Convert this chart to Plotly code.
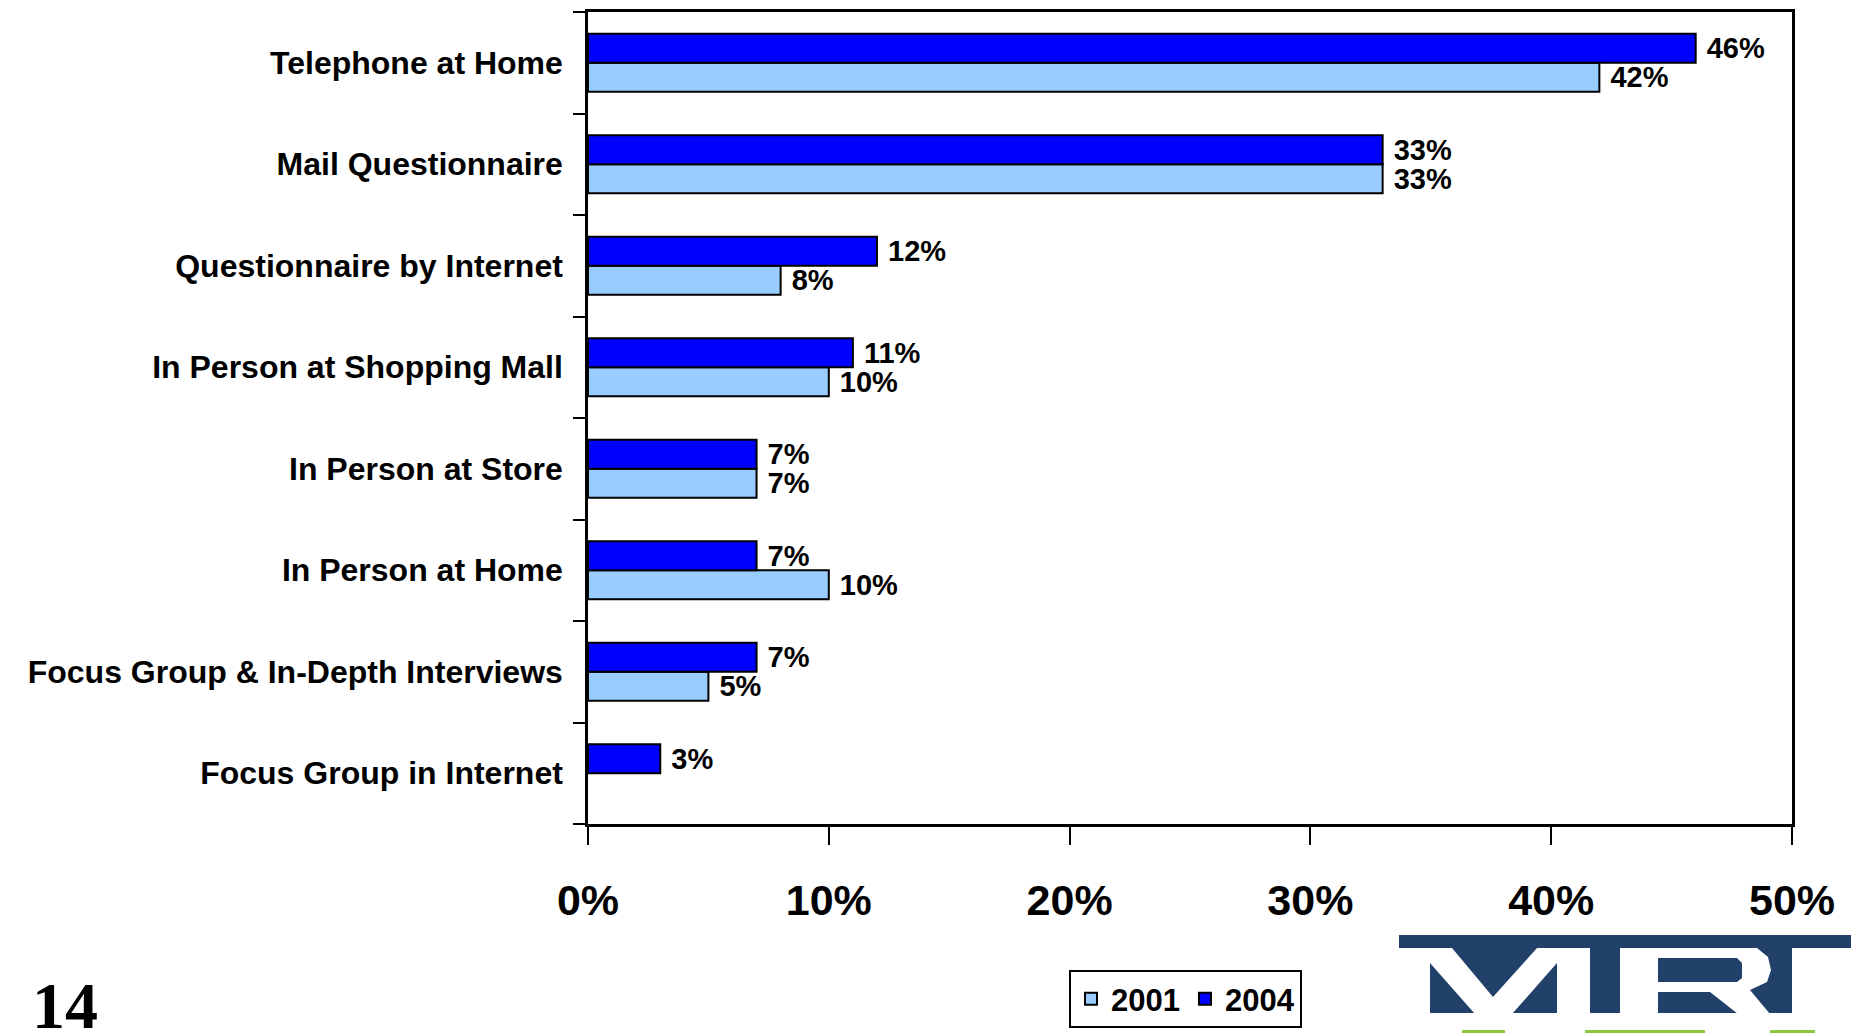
import plotly.graph_objects as go

# Survey method shares, listed top to bottom as they appear on the chart
methods = [
    "Telephone at Home",
    "Mail Questionnaire",
    "Questionnaire by Internet",
    "In Person at Shopping Mall",
    "In Person at Store",
    "In Person at Home",
    "Focus Group & In-Depth Interviews",
    "Focus Group in Internet",
]
share_2001 = [42, 33, 8, 10, 7, 10, 5, None]
share_2004 = [46, 33, 12, 11, 7, 7, 7, 3]
x_ticks = [0, 10, 20, 30, 40, 50]
x_tick_labels = ["0%", "10%", "20%", "30%", "40%", "50%"]

W, H = 1851, 1033
PL, PR, PT, PB = 588, 1792, 12, 824  # plot area in pixels


def px(x):
    return (x - PL) / (PR - PL)


def py(y):
    return (PB - y) / (PB - PT)


SANS = "Liberation Sans, Arial, sans-serif"
LIGHT = "#99CCFF"
DARK = "#0000FF"
NAVY = "#21406A"
GREEN = "#8DC63F"

fig = go.Figure()
for name, vals, color in [("2001", share_2001, LIGHT), ("2004", share_2004, DARK)]:
    fig.add_trace(go.Bar(
        name=name,
        y=methods,
        x=vals,
        orientation="h",
        marker=dict(color=color, line=dict(color="black", width=2)),
        text=["" if v is None else f"\u00a0{v}%" for v in vals],
        textposition="outside",
        constraintext="none",
        cliponaxis=False,
        textfont=dict(family=SANS, size=29, color="black", weight="bold"),
        hoverinfo="skip",
    ))

# Logo block at the lower right corner
shapes = [
    dict(type="rect", xref="paper", yref="paper",
         x0=px(1399), x1=px(1860), y0=py(1013), y1=py(935),
         fillcolor=NAVY, line=dict(width=0), layer="above"),
]


def poly(points, color):
    d = "M " + " L ".join(f"{px(x):.5f},{py(y):.5f}" for x, y in points) + " Z"
    return dict(type="path", xref="paper", yref="paper", path=d,
                fillcolor=color, line=dict(width=0), layer="above")


# M
shapes.append(poly([(1399, 948), (1452, 948), (1493, 997), (1537, 948), (1590, 948),
                    (1590, 1014), (1557, 1014), (1557, 963), (1512, 1014), (1475, 1014),
                    (1430, 963), (1430, 1014), (1399, 1014)], "white"))
# R
shapes.append(poly([(1620, 948), (1757, 948), (1768, 957), (1771, 970), (1767, 982),
                    (1750, 990), (1770, 1014), (1738, 1014), (1710, 992), (1658, 992),
                    (1658, 1014), (1620, 1014)], "white"))
shapes.append(poly([(1658, 958), (1737, 958), (1742, 963), (1742, 978), (1737, 982),
                    (1658, 982)], NAVY))
# I
shapes.append(dict(type="rect", xref="paper", yref="paper",
                   x0=px(1792), x1=px(1860), y0=py(1014), y1=py(948),
                   fillcolor="white", line=dict(width=0), layer="above"))
# green strip under the logo
for a, b in [(1462, 1505), (1585, 1705), (1770, 1815)]:
    shapes.append(dict(type="rect", xref="paper", yref="paper",
                       x0=px(a), x1=px(b), y0=py(1040), y1=py(1030),
                       fillcolor=GREEN, line=dict(width=0), layer="above"))

fig.update_layout(
    width=W, height=H,
    margin=dict(l=PL, r=W - PR, t=PT, b=H - PB, pad=0, autoexpand=False),
    paper_bgcolor="white", plot_bgcolor="white",
    barmode="group", bargap=0.43, bargroupgap=0,
    showlegend=True,
    legend=dict(
        orientation="h", x=px(1069), y=py(970), xanchor="left", yanchor="top",
        bordercolor="black", borderwidth=2, bgcolor="white",
        font=dict(family=SANS, size=31, color="black", weight="bold"),
        itemwidth=30, tracegroupgap=0,
    ),
    xaxis=dict(
        range=[0, 50], tickvals=x_ticks, ticktext=x_tick_labels,
        automargin=False,
        showgrid=False, zeroline=False,
        showline=True, linecolor="black", linewidth=2.5, mirror=True,
        ticks="outside", ticklen=18, tickwidth=2, tickcolor="black",
        ticklabelstandoff=19,
        tickfont=dict(family=SANS, size=43, color="black", weight="bold"),
    ),
    yaxis=dict(
        categoryorder="array", categoryarray=methods[::-1],
        automargin=False,
        showgrid=False, zeroline=False,
        showline=True, linecolor="black", linewidth=2.5, mirror=True,
        ticks="outside", ticklen=12, tickwidth=2, tickcolor="black",
        tickson="boundaries", ticklabelstandoff=16,
        tickfont=dict(family=SANS, size=32, color="black", weight="bold"),
    ),
    shapes=shapes,
    annotations=[dict(
        text="14", xref="paper", yref="paper", x=px(30), y=py(1005),
        xanchor="left", yanchor="middle", showarrow=False,
        font=dict(family="Liberation Serif, Times New Roman, serif", size=66,
                  color="black", weight="bold"),
    )],
)

fig.write_html("out.html")
